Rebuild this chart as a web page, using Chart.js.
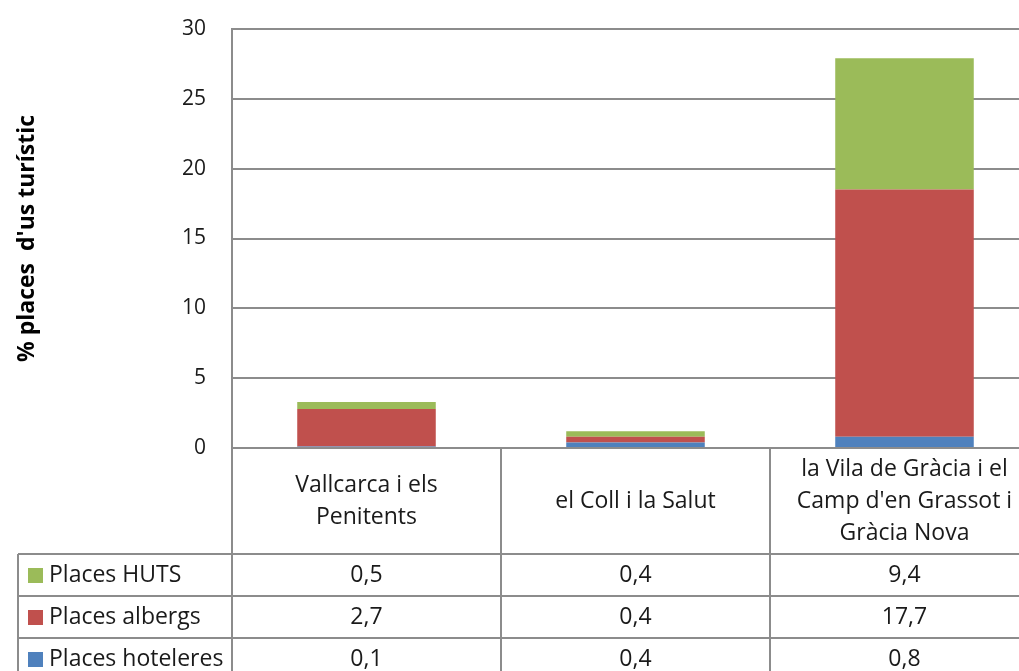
<!DOCTYPE html>
<html>
<head>
<meta charset="utf-8">
<script src="https://cdn.jsdelivr.net/npm/chart.js@4"></script>
<style>
  html, body { margin: 0; padding: 0; background: #fff; overflow: hidden; }
  #wrap { position: absolute; left: 0; top: 0; width: 1040px; height: 671px; }
</style>
</head>
<body>
<div id="wrap"><canvas id="c" width="1040" height="671"></canvas></div>
<script>
// Neighbourhood categories (lines as shown in the table header)
const categories = [
  ["Vallcarca i els", "Penitents"],
  ["el Coll i la Salut"],
  ["la Vila de Gràcia i el", "Camp d'en Grassot i", "Gràcia Nova"]
];
const seriesNames = ["Places HUTS", "Places albergs", "Places hoteleres"];
const placesHUTS = [0.5, 0.4, 9.4];
const placesAlbergs = [2.7, 0.4, 17.7];
const placesHoteleres = [0.1, 0.4, 0.8];
const yTicks = [0, 5, 10, 15, 20, 25, 30];
const yTitle = "% places  d'us turístic";

const colors = { huts: "#9BBB59", albergs: "#C0504D", hoteleres: "#4F81BD" };
const FONT = "'Open Sans', 'Liberation Sans', sans-serif";
const gridColor = "#8c8c8c";

const fmt = v => v.toFixed(1).replace(".", ",");

// Data table drawn under the plot, aligned to the category scale
const tablePlugin = {
  id: "dataTable",
  afterDraw(chart) {
    const ctx = chart.ctx;
    const xs = chart.scales.x;
    const area = chart.chartArea;
    const half = (xs.getPixelForValue(1) - xs.getPixelForValue(0)) / 2;
    const left = 18;
    const headTop = area.bottom;
    const headBottom = headTop + 106;
    const rowH = 42;
    // Table rows, top to bottom, match the stacking from top to bottom
    const rows = [
      { name: seriesNames[0], color: colors.huts, vals: placesHUTS },
      { name: seriesNames[1], color: colors.albergs, vals: placesAlbergs },
      { name: seriesNames[2], color: colors.hoteleres, vals: placesHoteleres }
    ];
    const right = xs.getPixelForValue(categories.length - 1) + half;

    ctx.save();
    ctx.strokeStyle = gridColor;
    ctx.lineWidth = 2;
    ctx.beginPath();
    // column dividers through header and body
    for (let i = 0; i <= categories.length; i++) {
      const x = Math.round(xs.getPixelForValue(0) - half + i * 2 * half);
      ctx.moveTo(x, headTop);
      ctx.lineTo(x, headBottom + rowH * rows.length + 10);
    }
    // left edge of legend column
    ctx.moveTo(left, headBottom);
    ctx.lineTo(left, headBottom + rowH * rows.length + 10);
    // horizontal row lines
    for (let r = 0; r <= rows.length; r++) {
      const y = Math.round(headBottom + r * rowH);
      ctx.moveTo(left, y);
      ctx.lineTo(right, y);
    }
    ctx.stroke();

    ctx.fillStyle = "#1a1a1a";
    ctx.font = "23px " + FONT;
    ctx.textAlign = "center";
    ctx.textBaseline = "middle";
    // header labels
    categories.forEach((lines, i) => {
      const cx = xs.getPixelForValue(i);
      const lh = 32;
      const cy = (headTop + headBottom) / 2;
      lines.forEach((ln, k) => {
        ctx.fillText(ln, cx, cy + (k - (lines.length - 1) / 2) * lh);
      });
    });
    // body rows
    rows.forEach((row, r) => {
      const cy = headBottom + r * rowH + rowH / 2;
      ctx.fillStyle = row.color;
      ctx.fillRect(28, cy - 7, 15, 15);
      ctx.fillStyle = "#1a1a1a";
      ctx.textAlign = "left";
      ctx.fillText(row.name, 49, cy);
      ctx.textAlign = "center";
      row.vals.forEach((v, i) => {
        ctx.fillText(fmt(v), xs.getPixelForValue(i), cy);
      });
    });
    ctx.restore();
  }
};

new Chart(document.getElementById("c"), {
  type: "bar",
  data: {
    labels: categories.map(l => l.join(" ")),
    datasets: [
      { label: seriesNames[2], data: placesHoteleres, backgroundColor: colors.hoteleres },
      { label: seriesNames[1], data: placesAlbergs, backgroundColor: colors.albergs },
      { label: seriesNames[0], data: placesHUTS, backgroundColor: colors.huts }
    ]
  },
  options: {
    responsive: false,
    animation: false,
    devicePixelRatio: 1,
    layout: { padding: { left: 0, top: 29, right: 1, bottom: 223 } },
    plugins: { legend: { display: false }, tooltip: { enabled: false } },
    datasets: { bar: { barPercentage: 1, categoryPercentage: 0.515 } },
    scales: {
      x: { stacked: true, display: false },
      y: {
        stacked: true,
        min: 0,
        max: 30,
        afterBuildTicks(scale) { scale.ticks = yTicks.map(v => ({ value: v })); },
        afterFit(scale) {
          scale.width = 232;
          scale.paddingTop = 0;
          scale.paddingBottom = 0;
        },
        grid: { color: gridColor, lineWidth: 2, drawTicks: false },
        border: { color: gridColor, width: 2 },
        ticks: { padding: 26, color: "#1a1a1a", font: { family: FONT, size: 21 } },
        title: {
          display: true,
          text: yTitle,
          color: "#000",
          font: { family: FONT, size: 23, weight: "bold" },
          padding: { top: 14, bottom: 0 }
        }
      }
    }
  },
  plugins: [tablePlugin]
});
</script>
</body>
</html>
